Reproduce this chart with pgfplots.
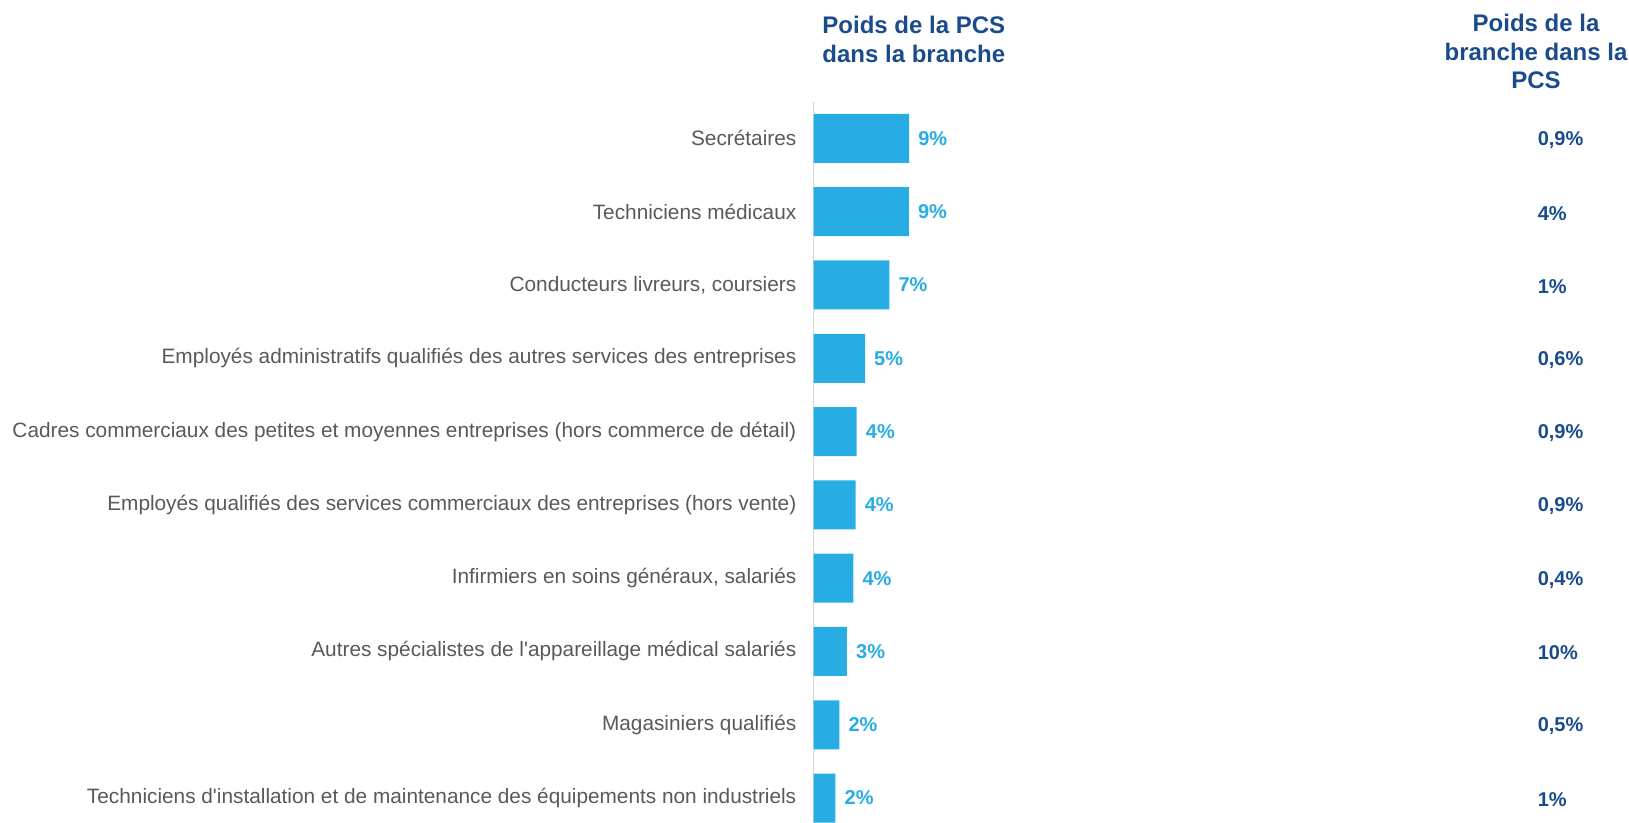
\documentclass[border=0pt]{standalone}
\usepackage{fontspec}
\setmainfont{Liberation Sans}
\usepackage{pgfplots}
\pgfplotsset{compat=1.18}
\usepackage{pgfplotstable}
\definecolor{barblue}{HTML}{27ADE3}
\definecolor{darkblue}{HTML}{1A4C8C}
\definecolor{labgray}{HTML}{595959}
\definecolor{axgray}{HTML}{D9D9D9}
\pgfplotstableread{
row val lab right
0 9.00 9 0,9
1 8.98 9 4
2 7.14 7 1
3 4.85 5 0,6
4 4.07 4 0,9
5 3.97 4 0,9
6 3.75 4 0,4
7 3.15 3 10
8 2.43 2 0,5
9 2.07 2 1
}\data
\begin{document}
\begin{tikzpicture}
\useasboundingbox (0,0) rectangle (1629bp,823bp);
\begin{axis}[
  at={(813.5bp,0bp)}, anchor=south west,
  scale only axis, width=849.6bp, height=721.3bp,
  xmin=0, xmax=80, ymin=-0.5, ymax=9.34,
  y dir=reverse, clip=false,
  axis x line=none, axis y line=left,
  y axis line style={-, draw=axgray, line width=1.6bp},
  xtick=\empty,
  ytick={0,...,9},
  yticklabels={Secrétaires, Techniciens médicaux, {Conducteurs livreurs, coursiers},
    Employés administratifs qualifiés des autres services des entreprises,
    Cadres commerciaux des petites et moyennes entreprises (hors commerce de détail),
    Employés qualifiés des services commerciaux des entreprises (hors vente),
    {Infirmiers en soins généraux, salariés},
    Autres spécialistes de l\textquotesingle appareillage médical salariés,
    Magasiniers qualifiés,
    Techniciens d\textquotesingle installation et de maintenance des équipements non industriels},
  major tick length=0pt,
  yticklabel style={font=\fontsize{20.8bp}{24bp}\selectfont, text=labgray, anchor=east, inner sep=0pt, xshift=-17bp},
]
\addplot[xbar, fill=barblue, draw=none, bar width=49bp,
  nodes near coords={\pgfplotspointmeta\%}, point meta=explicit symbolic,
  nodes near coords style={anchor=west, inner sep=0pt, xshift=9bp,
    font=\bfseries\fontsize{20bp}{24bp}\selectfont, text=barblue}]
  table[x=val, y=row, meta=lab]{\data};
\addplot[draw=none, mark=none,
  nodes near coords={\pgfplotspointmeta\%}, point meta=explicit symbolic,
  nodes near coords style={anchor=west, inner sep=0pt, yshift=-1.5bp,
    font=\bfseries\fontsize{20bp}{24bp}\selectfont, text=darkblue}]
  table[x expr=68.18, y=row, meta=right]{\data};
\end{axis}
\node[align=center, inner sep=0pt, font=\bfseries\fontsize{24bp}{28.8bp}\selectfont, text=darkblue]
  at (913.8bp,783.5bp) {Poids de la PCS\\dans la branche};
\node[align=center, inner sep=0pt, font=\bfseries\fontsize{24bp}{28.8bp}\selectfont, text=darkblue]
  at (1536bp,771.5bp) {Poids de la\\branche dans la\\PCS};
\end{tikzpicture}
\end{document}
